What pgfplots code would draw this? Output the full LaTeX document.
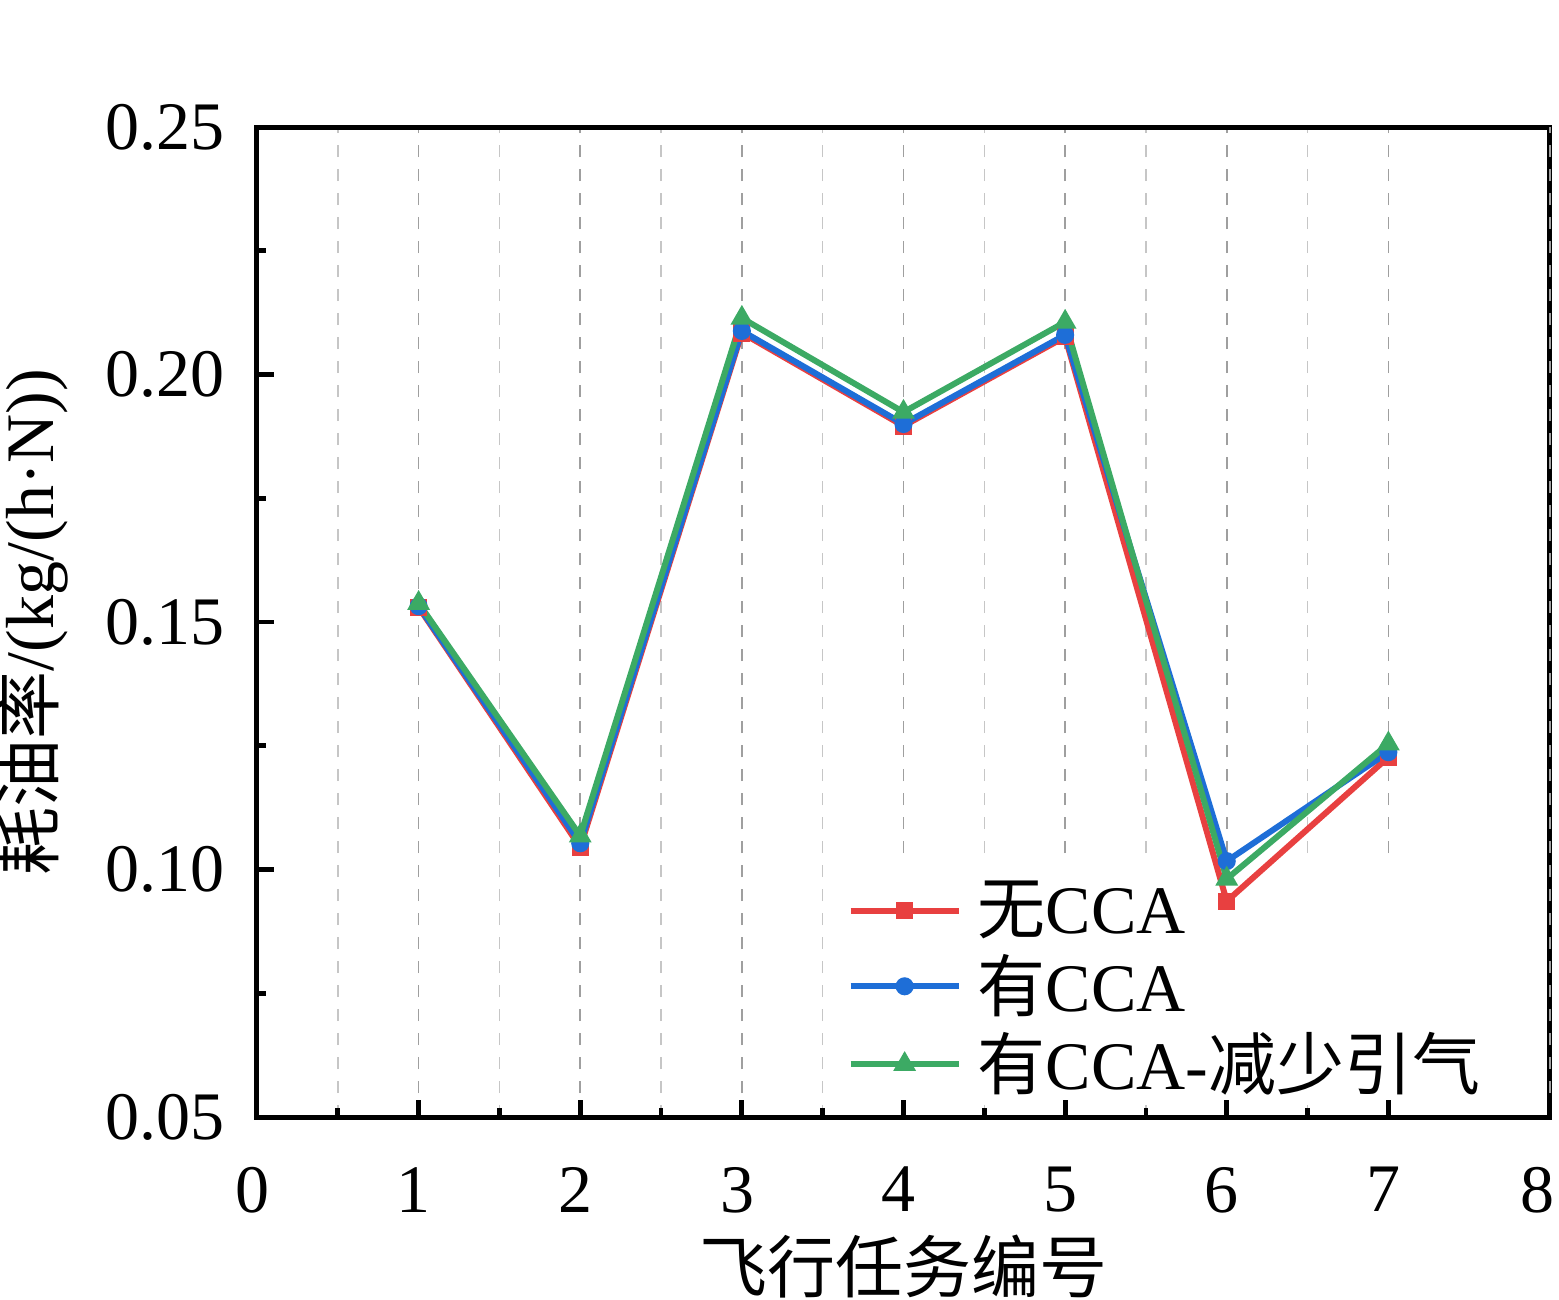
\documentclass[border=0pt]{standalone}
\usepackage{pgfplots}
\pgfplotsset{compat=1.18}
\usepackage{fontspec}
\setmainfont{Liberation Serif}
\newfontfamily\cjk{Noto Sans CJK SC}
\definecolor{cred}{RGB}{232,64,64}
\definecolor{cblue}{RGB}{30,110,215}
\definecolor{cgreen}{RGB}{60,170,100}
\begin{document}
\begin{tikzpicture}
\begin{axis}[
  scale only axis,
  width=323.25pt, height=247.5pt,
  xmin=0, xmax=8, ymin=0.05, ymax=0.25,
  xtick={0,1,...,7}, ytick={0.05,0.10,0.15,0.20,0.25},
  extra x ticks={8},
  extra x tick style={xticklabel style={xshift=-2pt}},
  minor x tick num=1, minor y tick num=1,
  yticklabel style={/pgf/number format/fixed,/pgf/number format/fixed zerofill,/pgf/number format/precision=2},
  /pgf/number format/assume math mode=true,
  tick align=inside, xtick pos=bottom, ytick pos=left,
  major tick length=4.2pt, minor tick length=2.3pt,
  every tick/.style={black, line width=1.2pt},
  axis line style={line width=1.25pt},
  xmajorgrids, xminorgrids, 
  major grid style={dashed, gray!75, line width=0.4pt},
  minor grid style={dashed, gray!45, line width=0.4pt},
  tick label style={font=\fontsize{17}{20}\selectfont},
  xticklabel style={yshift=-9pt, xshift=-1.2pt},
  yticklabel style={xshift=-4.5pt},
  xlabel={\cjk 飞行任务编号},
  ylabel={{\cjk 耗油率}/(kg/(h·N))},
  label style={font=\fontsize{17}{20}\selectfont},
  xlabel style={yshift=1.5pt},
  ylabel style={yshift=2.5pt},
  legend style={at={(0.45,0.255)}, anchor=north west, draw=none, fill=none,
    font=\fontsize{17}{20}\selectfont, row sep=-0.3pt, inner sep=2pt},
  legend cell align=left,
  legend image code/.code={\draw[mark repeat=2,mark phase=2] plot coordinates {(0pt,0pt) (13.5pt,0pt) (27pt,0pt)};},
]
\fill[white] (rel axis cs:0.4455,0.2545) rectangle (rel axis cs:0.9455,0.0172);
\addplot[cred, line width=1.5pt, mark=square*, mark size=1.4pt] coordinates {
(1,0.1530) (2,0.1045) (3,0.2084) (4,0.1896) (5,0.2076) (6,0.0936) (7,0.1227)};
\addlegendentry{\hspace{2pt}{\cjk 无}CCA}
\addplot[cblue, line width=1.5pt, mark=*, mark size=1.5pt] coordinates {
(1,0.1532) (2,0.1053) (3,0.2088) (4,0.1900) (5,0.2080) (6,0.1017) (7,0.1237)};
\addlegendentry{\hspace{2pt}{\cjk 有}CCA}
\addplot[cgreen, line width=1.5pt, mark=triangle*, mark size=1.8pt] coordinates {
(1,0.1538) (2,0.1068) (3,0.2114) (4,0.1924) (5,0.2106) (6,0.0981) (7,0.1254)};
\addlegendentry{\hspace{2pt}{\cjk 有}CCA-{\cjk 减少引气}}
\end{axis}
\pgfresetboundingbox
\path[use as bounding box] (current axis.south west) ++(-64.25pt,-45.5pt) rectangle ++(389.75pt,324.75pt);
\end{tikzpicture}
\end{document}
